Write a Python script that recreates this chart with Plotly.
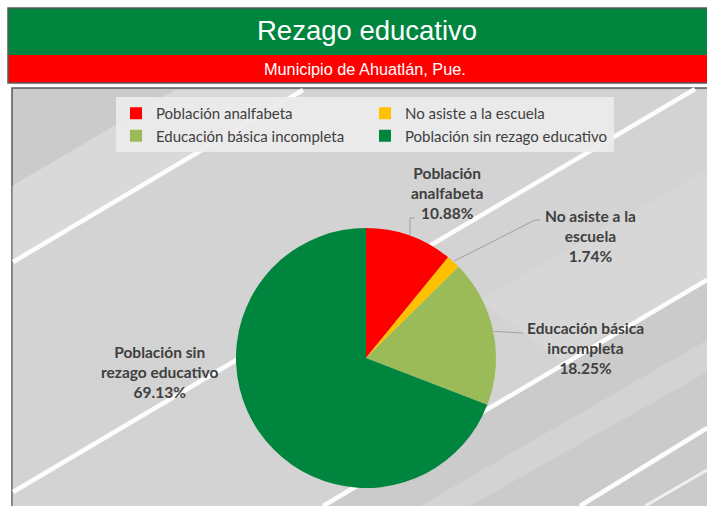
import math
import plotly.graph_objects as go

# ---- data ----
categories = ["Población analfabeta", "No asiste a la escuela",
              "Educación básica incompleta", "Población sin rezago educativo"]
values = [10.88, 1.74, 18.25, 69.13]
label_lines = ["Población<br>analfabeta", "No asiste a la<br>escuela",
               "Educación básica<br>incompleta", "Población sin<br>rezago educativo"]
colors = ["#FF0000", "#FFC000", "#9BBB59", "#00853F"]
title_text = "Rezago educativo"
subtitle_text = "Municipio de Ahuatlán, Pue."

W, H = 707, 506
def px(x):
    return x / W
def py(y):
    return 1 - y / H

# pie geometry (pixels)
CX, CY, R = 366, 358, 130

fig = go.Figure()
fig.add_trace(go.Pie(
    labels=categories, values=values, sort=False, direction="clockwise",
    rotation=0, marker=dict(colors=colors, line=dict(width=0)),
    textinfo="none", hoverinfo="label+percent",
    domain=dict(x=[px(CX - R), px(CX + R)], y=[py(CY + R), py(CY - R)]),
))

shapes = []
# banner
shapes.append(dict(type="rect", xref="paper", yref="paper", x0=px(8), x1=px(720), y0=py(8), y1=py(55),
                   fillcolor="#00853F", line=dict(width=0), layer="below"))
shapes.append(dict(type="rect", xref="paper", yref="paper", x0=px(8), x1=px(720), y0=py(55), y1=py(83),
                   fillcolor="#FF0000", line=dict(width=0), layer="below"))
shapes.append(dict(type="rect", xref="paper", yref="paper", x0=px(8), x1=px(720), y0=py(8), y1=py(83),
                   fillcolor="rgba(0,0,0,0)", line=dict(color="#5a5a5a", width=1.5), layer="below"))
# chart area background
shapes.append(dict(type="rect", xref="paper", yref="paper", x0=px(12), x1=px(720), y0=py(88), y1=py(520),
                   fillcolor="#cbcbcb", line=dict(color="#5a5a5a", width=1.5), layer="below"))

def poly(pts, fill):
    path = "M " + " L ".join(f"{px(x)},{py(y)}" for x, y in pts) + " Z"
    return dict(type="path", xref="paper", yref="paper", path=path,
                fillcolor=fill, line=dict(width=0), layer="below")

# soft light bands
shapes.append(poly([(12, 262), (303, 90), (175, 90), (12, 186)], "rgba(255,255,255,0.28)"))
shapes.append(poly([(12, 262), (303, 90), (707, 90), (707, 280), (323, 506), (12, 506)], "rgba(255,255,255,0.16)"))
shapes.append(poly([(420, 506), (707, 340), (707, 372), (470, 506)], "rgba(255,255,255,0.16)"))
shapes.append(poly([(480, 300), (707, 170), (707, 280), (560, 360)], "rgba(255,255,255,0.10)"))

def stripe(x0, y0, x1, y1, w=4.5, c="rgba(255,255,255,0.95)"):
    return dict(type="line", xref="paper", yref="paper", x0=px(x0), y0=py(y0), x1=px(x1), y1=py(y1),
                line=dict(color=c, width=w), layer="below")

shapes.append(stripe(13, 262, 303, 90))
shapes.append(stripe(13, 492, 695, 89))
shapes.append(stripe(323, 506, 707, 280))
shapes.append(stripe(580, 506, 707, 428))
shapes.append(stripe(645, 506, 707, 470, w=3, c="rgba(255,255,255,0.7)"))

# leader lines from slice mid-angles
cum = 0
total = sum(values)
mids = []
for v in values:
    mids.append((cum + v / 2) / total * 2 * math.pi)
    cum += v
def edge(a, r=R + 1):
    return CX + r * math.sin(a), CY - r * math.cos(a)

leader_ends = [[(410, 218), (415, 218)], [(535, 220), (540, 220)], [(523, 333)], None]
for a, ends in zip(mids, leader_ends):
    if ends is None:
        continue
    pts = [edge(a)] + ends
    path = "M " + " L ".join(f"{px(x)},{py(y)}" for x, y in pts)
    shapes.append(dict(type="path", xref="paper", yref="paper", path=path,
                       line=dict(color="#a0a0a0", width=1), layer="above"))

label_pos = [(447, 193), (590, 236), (585, 348), (159, 372)]
annotations = []
for txt, v, (x, y) in zip(label_lines, values, label_pos):
    annotations.append(dict(text=f"<b>{txt}<br>{v:.2f}%</b>", x=px(x), y=py(y), xref="paper", yref="paper",
                            showarrow=False, xanchor="center", yanchor="middle", align="center",
                            font=dict(family="Lato, sans-serif", size=15.5, color="#404040")))
annotations.append(dict(text=title_text, x=px(367), y=py(31), xref="paper", yref="paper", showarrow=False,
                        xanchor="center", yanchor="middle",
                        font=dict(family="Liberation Sans, Arial, sans-serif", size=27.5, color="white")))
annotations.append(dict(text=subtitle_text, x=px(365), y=py(69), xref="paper", yref="paper", showarrow=False,
                        xanchor="center", yanchor="middle",
                        font=dict(family="Liberation Sans, Arial, sans-serif", size=16.3, color="white")))

fig.update_layout(
    width=W, height=H, margin=dict(l=0, r=0, t=0, b=0),
    paper_bgcolor="white", plot_bgcolor="white",
    shapes=shapes, annotations=annotations,
    showlegend=True,
    legend=dict(orientation="h", x=px(116), y=py(97), xanchor="left", yanchor="top",
                entrywidth=204, entrywidthmode="pixels", bgcolor="rgba(236,236,236,0.92)",
                borderwidth=0, font=dict(family="Lato, sans-serif", size=15, color="#404040"),
                traceorder="normal"),
)

fig.write_html("out.html", config={"displayModeBar": False},
               post_script="document.body.style.margin='0';document.body.style.overflow='hidden';")
